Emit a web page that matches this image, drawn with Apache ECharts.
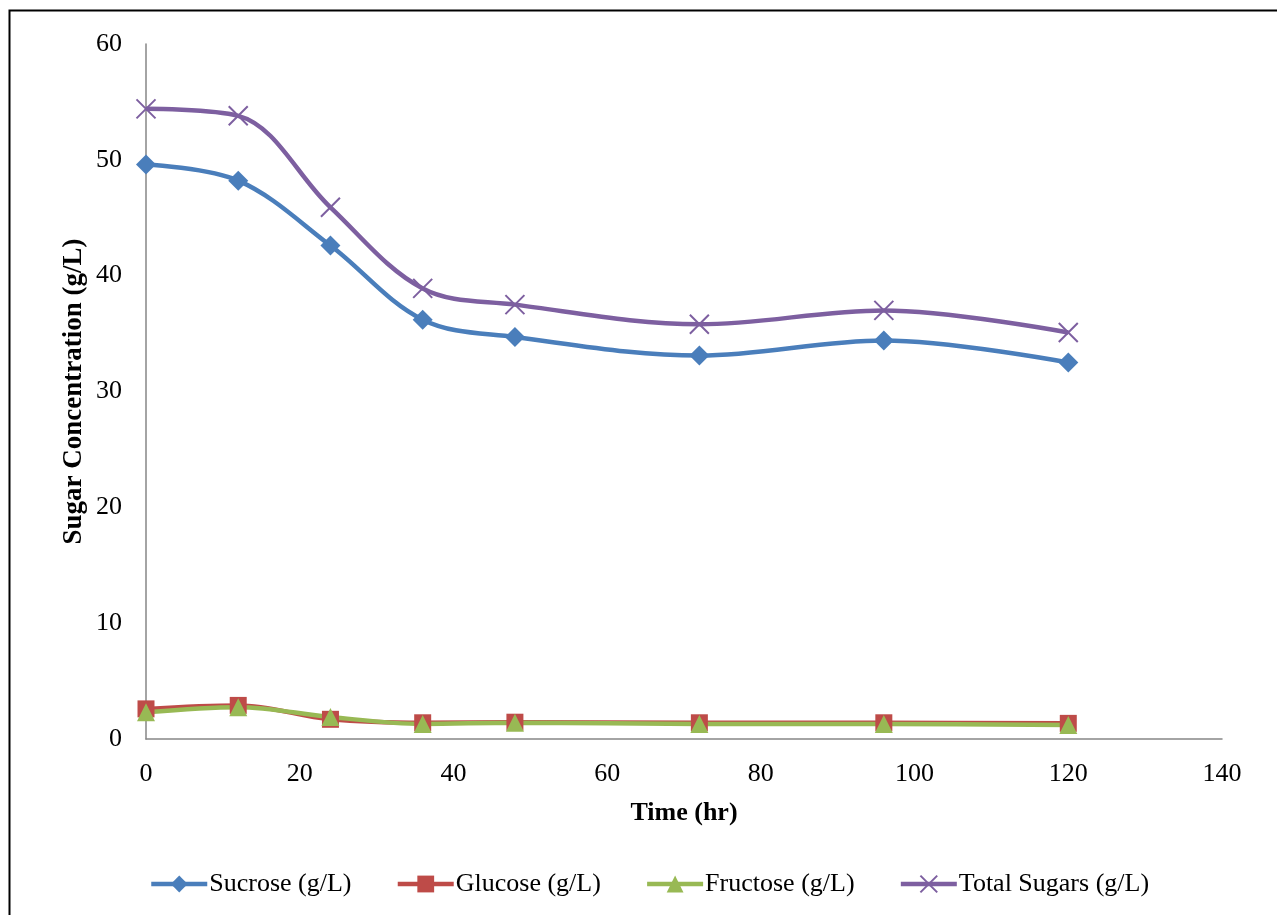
<!DOCTYPE html>
<html>
<head>
<meta charset="utf-8">
<script src="https://cdn.jsdelivr.net/npm/echarts@6/dist/echarts.min.js"></script>
<style>html,body{margin:0;padding:0;background:#fff;}#c{width:1277px;height:915px;}</style>
</head>
<body>
<div id="c"></div>
<script>
const times = [0, 12, 24, 36, 48, 72, 96, 120];
const sucrose = [49.6, 48.2, 42.6, 36.2, 34.7, 33.1, 34.4, 32.5];
const glucose = [2.6, 2.9, 1.7, 1.4, 1.45, 1.4, 1.4, 1.35];
const fructose = [2.3, 2.75, 1.9, 1.3, 1.4, 1.3, 1.3, 1.2];
const totalSugars = [54.4, 53.8, 45.9, 38.9, 37.5, 35.8, 37.0, 35.1];
const xTicks = {min: 0, max: 140, interval: 20};
const yTicks = {min: 0, max: 60, interval: 10};

const pair = arr => times.map((t, i) => [t, arr[i]]);
const font = 'Liberation Serif, Times New Roman, serif';
const chart = echarts.init(document.getElementById('c'));
const mk = (name, data, color, symbol, size, extra) => Object.assign({
  name, type: 'line', data: pair(data), smooth: 0.35,
  symbol, symbolSize: size,
  lineStyle: {color, width: 4.5},
  itemStyle: {color},
  emphasis: {disabled: true}
}, extra || {});
chart.setOption({
  animation: false,
  textStyle: {fontFamily: font},
  grid: {left: 146, right: 55, top: 44, bottom: 176},
  graphic: [{type: 'rect', left: 7, top: 8, shape: {width: 1320, height: 1000},
    style: {fill: 'none', stroke: '#000', lineWidth: 2}, silent: true}],
  xAxis: {
    type: 'value', min: xTicks.min, max: xTicks.max, interval: xTicks.interval,
    name: 'Time (hr)', nameLocation: 'middle', nameGap: 61, nameMoveOverlap: false,
    nameTextStyle: {fontFamily: font, fontSize: 26, fontWeight: 'bold', color: '#000'},
    axisLine: {lineStyle: {color: '#868686', width: 1.5}},
    axisTick: {show: false},
    splitLine: {show: false},
    axisLabel: {fontFamily: font, fontSize: 26, color: '#000', margin: 22}
  },
  yAxis: {
    type: 'value', min: yTicks.min, max: yTicks.max, interval: yTicks.interval,
    name: 'Sugar Concentration (g/L)', nameLocation: 'middle', nameGap: 58, nameMoveOverlap: false,
    nameTextStyle: {fontFamily: font, fontSize: 27, fontWeight: 'bold', color: '#000'},
    axisLine: {show: true, lineStyle: {color: '#868686', width: 1.5}},
    axisTick: {show: false},
    splitLine: {show: false},
    axisLabel: {fontFamily: font, fontSize: 26, color: '#000', margin: 24}
  },
  legend: {
    bottom: 13, left: 144, itemWidth: 56, itemHeight: 21, itemGap: 44,
    lineStyle: {width: 4.5},
    textStyle: {fontFamily: font, fontSize: 26, color: '#000', padding: [0, 0, 0, -3]},
    data: ['Sucrose (g/L)', 'Glucose (g/L)', 'Fructose (g/L)', 'Total Sugars (g/L)']
  },
  series: [
    mk('Sucrose (g/L)', sucrose, '#4a7ebb', 'diamond', 20),
    mk('Glucose (g/L)', glucose, '#be4b48', 'rect', 17),
    mk('Fructose (g/L)', fructose, '#98b954', 'triangle', 18),
    mk('Total Sugars (g/L)', totalSugars, '#7d5fa0', 'path://M0,0L10,10M10,0L0,10', 19,
      {itemStyle: {color: 'rgba(0,0,0,0)', borderColor: '#7d5fa0', borderWidth: 2}})
  ]
});
</script>
</body>
</html>
